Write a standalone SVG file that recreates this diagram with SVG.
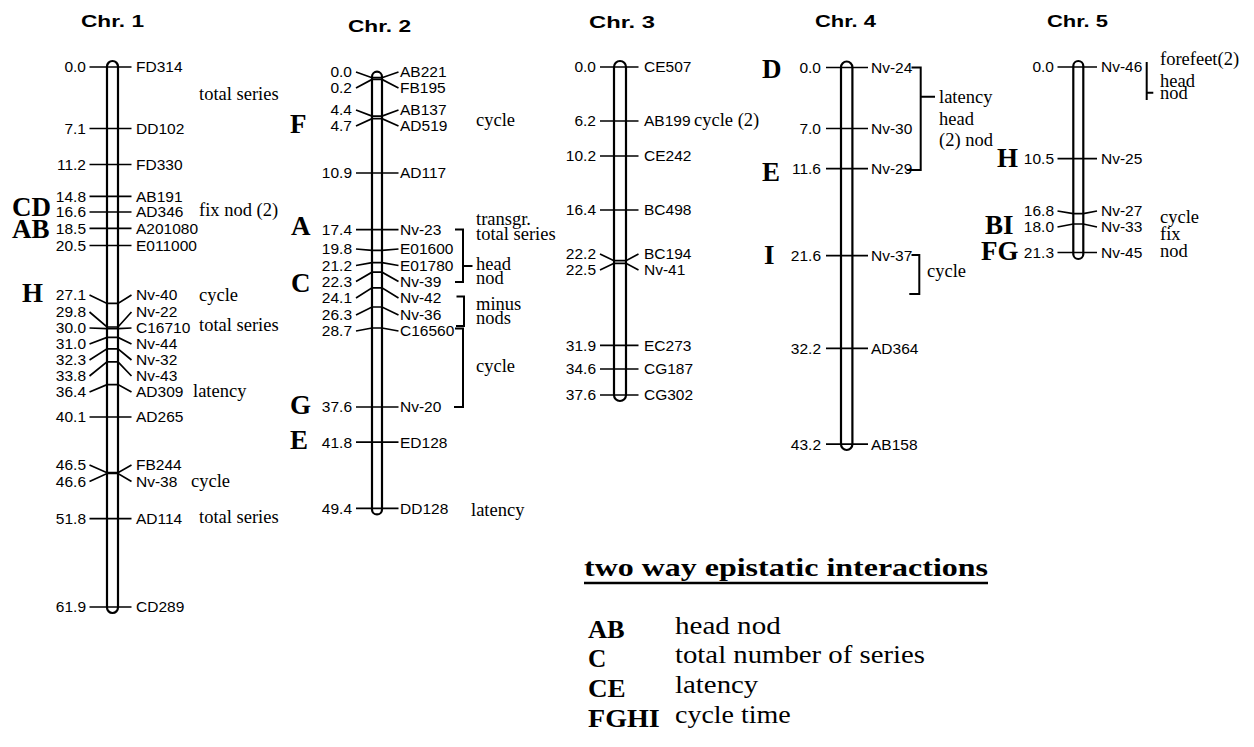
<svg xmlns="http://www.w3.org/2000/svg" width="1254" height="747" viewBox="0 0 1254 747">
<style>
text{fill:#000}
.n{font-family:'Liberation Sans',Arial,sans-serif;font-size:15.5px;text-anchor:end}
.m{font-family:'Liberation Sans',Arial,sans-serif;font-size:15.5px}
.a{font-family:'Liberation Serif','Times New Roman',serif;font-size:18.5px}
.L{font-family:'Liberation Serif','Times New Roman',serif;font-size:27px;font-weight:bold}
.t{font-family:'Liberation Sans',Arial,sans-serif;font-size:17px;font-weight:bold}
.bar{fill:#fff;stroke:#000;stroke-width:2.2}
.tk{fill:none;stroke:#000;stroke-width:1.7}
.br{fill:none;stroke:#000;stroke-width:2}
.lt{font-family:'Liberation Serif','Times New Roman',serif;font-size:26px;font-weight:bold}
.ld{font-family:'Liberation Serif','Times New Roman',serif;font-size:25px}
</style>
<rect width="1254" height="747" fill="#fff"/>

<g id="chr1">
<text class="t" x="81" y="27" textLength="63" lengthAdjust="spacingAndGlyphs">Chr. 1</text>
<rect class="bar" x="107" y="61" width="11" height="552" rx="5.5" ry="5.5"/>
<g class="tk">
<line x1="89.5" y1="67" x2="131.5" y2="67"/>
<line x1="89.5" y1="128.5" x2="131.5" y2="128.5"/>
<line x1="89.5" y1="164.5" x2="131.5" y2="164.5"/>
<line x1="89.5" y1="196.3" x2="131.5" y2="196.3"/>
<line x1="89.5" y1="212" x2="131.5" y2="212"/>
<line x1="89.5" y1="228.4" x2="131.5" y2="228.4"/>
<line x1="89.5" y1="245.5" x2="131.5" y2="245.5"/>
<polyline points="89.5,295 107,303.4 118,303.4 131.5,295"/>
<polyline points="89.5,312 107,327 118,327 131.5,312"/>
<polyline points="89.5,328 107,328.7 118,328.7 131.5,328"/>
<polyline points="89.5,344 107,337.4 118,337.4 131.5,344"/>
<polyline points="89.5,360 107,348.8 118,348.8 131.5,360"/>
<polyline points="89.5,376 107,361.9 118,361.9 131.5,376"/>
<polyline points="89.5,392 107,384.6 118,384.6 131.5,392"/>
<line x1="89.5" y1="417" x2="131.5" y2="417"/>
<polyline points="89.5,465 107,472.7 118,472.7 131.5,465"/>
<polyline points="89.5,481.5 107,473.5 118,473.5 131.5,481.5"/>
<line x1="89.5" y1="518.7" x2="131.5" y2="518.7"/>
<line x1="89.5" y1="607" x2="131.5" y2="607"/>
</g>
<text class="n" x="86" y="72.3">0.0</text>
<text class="n" x="86" y="133.8">7.1</text>
<text class="n" x="86" y="169.8">11.2</text>
<text class="n" x="86" y="201.6">14.8</text>
<text class="n" x="86" y="217.3">16.6</text>
<text class="n" x="86" y="233.7">18.5</text>
<text class="n" x="86" y="250.8">20.5</text>
<text class="n" x="86" y="300.3">27.1</text>
<text class="n" x="86" y="317.3">29.8</text>
<text class="n" x="86" y="333.3">30.0</text>
<text class="n" x="86" y="349.3">31.0</text>
<text class="n" x="86" y="365.3">32.3</text>
<text class="n" x="86" y="381.3">33.8</text>
<text class="n" x="86" y="397.3">36.4</text>
<text class="n" x="86" y="422.3">40.1</text>
<text class="n" x="86" y="470.3">46.5</text>
<text class="n" x="86" y="486.8">46.6</text>
<text class="n" x="86" y="524">51.8</text>
<text class="n" x="86" y="612.3">61.9</text>
<text class="m" x="136" y="72.3">FD314</text>
<text class="m" x="136" y="133.8">DD102</text>
<text class="m" x="136" y="169.8">FD330</text>
<text class="m" x="136" y="201.6">AB191</text>
<text class="m" x="136" y="217.3">AD346</text>
<text class="m" x="136" y="233.7">A201080</text>
<text class="m" x="136" y="250.8">E011000</text>
<text class="m" x="136" y="300.3">Nv-40</text>
<text class="m" x="136" y="317.3">Nv-22</text>
<text class="m" x="136" y="333.3">C16710</text>
<text class="m" x="136" y="349.3">Nv-44</text>
<text class="m" x="136" y="365.3">Nv-32</text>
<text class="m" x="136" y="381.3">Nv-43</text>
<text class="m" x="136" y="397.3">AD309</text>
<text class="m" x="136" y="422.3">AD265</text>
<text class="m" x="136" y="470.3">FB244</text>
<text class="m" x="136" y="486.8">Nv-38</text>
<text class="m" x="136" y="524">AD114</text>
<text class="m" x="136" y="612.3">CD289</text>
<text class="a" x="199" y="100">total series</text>
<text class="a" x="199" y="216">fix nod (2)</text>
<text class="a" x="199" y="301">cycle</text>
<text class="a" x="199" y="331">total series</text>
<text class="a" x="193" y="397">latency</text>
<text class="a" x="191" y="487">cycle</text>
<text class="a" x="199" y="523">total series</text>
<text class="L" x="12" y="216">CD</text>
<text class="L" x="12" y="238">AB</text>
<text class="L" x="22" y="302">H</text>
</g>

<g id="chr2">
<text class="t" x="348" y="31.5" textLength="63" lengthAdjust="spacingAndGlyphs">Chr. 2</text>
<rect class="bar" x="372" y="71.7" width="10" height="442.7" rx="5" ry="5"/>
<g class="tk">
<polyline points="356,72 372,77.7 382,77.7 398.5,72"/>
<polyline points="356,88 372,79.4 382,79.4 398.5,88"/>
<polyline points="356,110 372,116.1 382,116.1 398.5,110"/>
<polyline points="356,126 372,118.7 382,118.7 398.5,126"/>
<line x1="356" y1="173" x2="398.5" y2="173"/>
<line x1="356" y1="229.7" x2="398.5" y2="229.7"/>
<polyline points="356,249 372,250.4 382,250.4 398.5,249"/>
<polyline points="356,265.5 372,262.6 382,262.6 398.5,265.5"/>
<polyline points="356,281.5 372,272.2 382,272.2 398.5,281.5"/>
<polyline points="356,298 372,287.9 382,287.9 398.5,298"/>
<polyline points="356,315 372,307 382,307 398.5,315"/>
<polyline points="356,331 372,328 382,328 398.5,331"/>
<line x1="356" y1="407" x2="398.5" y2="407"/>
<line x1="356" y1="442.2" x2="398.5" y2="442.2"/>
<line x1="356" y1="508.4" x2="398.5" y2="508.4"/>
</g>
<text class="n" x="352" y="77.3">0.0</text>
<text class="n" x="352" y="93.3">0.2</text>
<text class="n" x="352" y="115.3">4.4</text>
<text class="n" x="352" y="131.3">4.7</text>
<text class="n" x="352" y="178.3">10.9</text>
<text class="n" x="352" y="235">17.4</text>
<text class="n" x="352" y="254.3">19.8</text>
<text class="n" x="352" y="270.8">21.2</text>
<text class="n" x="352" y="286.8">22.3</text>
<text class="n" x="352" y="303.3">24.1</text>
<text class="n" x="352" y="320.3">26.3</text>
<text class="n" x="352" y="336.3">28.7</text>
<text class="n" x="352" y="412.3">37.6</text>
<text class="n" x="352" y="447.5">41.8</text>
<text class="n" x="352" y="513.7">49.4</text>
<text class="m" x="400" y="77.3">AB221</text>
<text class="m" x="400" y="93.3">FB195</text>
<text class="m" x="400" y="115.3">AB137</text>
<text class="m" x="400" y="131.3">AD519</text>
<text class="m" x="400" y="178.3">AD117</text>
<text class="m" x="400" y="235">Nv-23</text>
<text class="m" x="400" y="254.3">E01600</text>
<text class="m" x="400" y="270.8">E01780</text>
<text class="m" x="400" y="286.8">Nv-39</text>
<text class="m" x="400" y="303.3">Nv-42</text>
<text class="m" x="400" y="320.3">Nv-36</text>
<text class="m" x="400" y="336.3">C16560</text>
<text class="m" x="400" y="412.3">Nv-20</text>
<text class="m" x="400" y="447.5">ED128</text>
<text class="m" x="400" y="513.7">DD128</text>
<text class="a" x="476" y="126">cycle</text>
<text class="a" x="476" y="225">transgr.</text>
<text class="a" x="476" y="239.5">total series</text>
<text class="a" x="476" y="270">head</text>
<text class="a" x="476" y="284">nod</text>
<text class="a" x="476" y="310">minus</text>
<text class="a" x="476" y="324">nods</text>
<text class="a" x="476" y="372">cycle</text>
<text class="a" x="471" y="516">latency</text>
<text class="L" x="290" y="133">F</text>
<text class="L" x="291" y="235">A</text>
<text class="L" x="291" y="292">C</text>
<text class="L" x="290" y="414">G</text>
<text class="L" x="290" y="449">E</text>
</g>

<g id="chr3">
<text class="t" x="589" y="28" textLength="66" lengthAdjust="spacingAndGlyphs">Chr. 3</text>
<rect class="bar" x="614" y="61" width="12" height="340" rx="6" ry="6"/>
<g class="tk">
<line x1="600" y1="67" x2="638.5" y2="67"/>
<line x1="600" y1="121" x2="638.5" y2="121"/>
<line x1="600" y1="156" x2="638.5" y2="156"/>
<line x1="600" y1="210" x2="638.5" y2="210"/>
<polyline points="600,254 614,260.7 626,260.7 638.5,254"/>
<polyline points="600,270 614,263.3 626,263.3 638.5,270"/>
<line x1="600" y1="345.3" x2="638.5" y2="345.3"/>
<line x1="600" y1="369" x2="638.5" y2="369"/>
<line x1="600" y1="395" x2="638.5" y2="395"/>
</g>
<text class="n" x="596" y="72.3">0.0</text>
<text class="n" x="596" y="126.3">6.2</text>
<text class="n" x="596" y="161.3">10.2</text>
<text class="n" x="596" y="215.3">16.4</text>
<text class="n" x="596" y="259.3">22.2</text>
<text class="n" x="596" y="275.3">22.5</text>
<text class="n" x="596" y="350.6">31.9</text>
<text class="n" x="596" y="374.3">34.6</text>
<text class="n" x="596" y="400.3">37.6</text>
<text class="m" x="644" y="72.3">CE507</text>
<text class="m" x="644" y="126.3">AB199</text>
<text class="m" x="644" y="161.3">CE242</text>
<text class="m" x="644" y="215.3">BC498</text>
<text class="m" x="644" y="259.3">BC194</text>
<text class="m" x="644" y="275.3">Nv-41</text>
<text class="m" x="644" y="350.6">EC273</text>
<text class="m" x="644" y="374.3">CG187</text>
<text class="m" x="644" y="400.3">CG302</text>
<text class="a" x="694" y="126">cycle (2)</text>
</g>

<g id="chr4">
<text class="t" x="815" y="26.7" textLength="61" lengthAdjust="spacingAndGlyphs">Chr. 4</text>
<rect class="bar" x="841" y="61.5" width="11.4" height="388.5" rx="5.7" ry="5.7"/>
<g class="tk">
<line x1="826" y1="67.5" x2="868" y2="67.5"/>
<line x1="826" y1="128.5" x2="868" y2="128.5"/>
<line x1="826" y1="168.7" x2="868" y2="168.7"/>
<line x1="826" y1="255.7" x2="868" y2="255.7"/>
<line x1="826" y1="348.4" x2="868" y2="348.4"/>
<line x1="826" y1="444.2" x2="868" y2="444.2"/>
</g>
<text class="n" x="821" y="72.8">0.0</text>
<text class="n" x="821" y="133.8">7.0</text>
<text class="n" x="821" y="174">11.6</text>
<text class="n" x="821" y="261">21.6</text>
<text class="n" x="821" y="353.7">32.2</text>
<text class="n" x="821" y="449.5">43.2</text>
<text class="m" x="871" y="72.8">Nv-24</text>
<text class="m" x="871" y="133.8">Nv-30</text>
<text class="m" x="871" y="174">Nv-29</text>
<text class="m" x="871" y="261">Nv-37</text>
<text class="m" x="871" y="353.7">AD364</text>
<text class="m" x="871" y="449.5">AB158</text>
<text class="a" x="939" y="103">latency</text>
<text class="a" x="939" y="125">head</text>
<text class="a" x="939" y="146">(2) nod</text>
<text class="a" x="927" y="277">cycle</text>
<text class="L" x="762" y="78">D</text>
<text class="L" x="762" y="181">E</text>
<text class="L" x="764" y="264">I</text>
</g>

<g id="chr5">
<text class="t" x="1047" y="26.7" textLength="61" lengthAdjust="spacingAndGlyphs">Chr. 5</text>
<rect class="bar" x="1073.3" y="61" width="10" height="198" rx="5" ry="5"/>
<g class="tk">
<line x1="1057.5" y1="67" x2="1097" y2="67"/>
<line x1="1057.5" y1="158.6" x2="1097" y2="158.6"/>
<polyline points="1057.5,211 1073.3,213.6 1083.3,213.6 1097,211"/>
<polyline points="1057.5,227 1073.3,224 1083.3,224 1097,227"/>
<line x1="1057.5" y1="252.5" x2="1097" y2="252.5"/>
</g>
<text class="n" x="1054" y="72.3">0.0</text>
<text class="n" x="1054" y="163.9">10.5</text>
<text class="n" x="1054" y="216.3">16.8</text>
<text class="n" x="1054" y="232.3">18.0</text>
<text class="n" x="1054" y="257.8">21.3</text>
<text class="m" x="1101" y="72.3">Nv-46</text>
<text class="m" x="1101" y="163.9">Nv-25</text>
<text class="m" x="1101" y="216.3">Nv-27</text>
<text class="m" x="1101" y="232.3">Nv-33</text>
<text class="m" x="1101" y="257.8">Nv-45</text>
<text class="a" x="1160" y="65">forefeet(2)</text>
<text class="a" x="1160" y="87">head</text>
<text class="a" x="1160" y="98.5">nod</text>
<text class="a" x="1160" y="223">cycle</text>
<text class="a" x="1160" y="240">fix</text>
<text class="a" x="1160" y="257">nod</text>
<text class="L" x="997" y="167">H</text>
<text class="L" x="985" y="234">BI</text>
<text class="L" x="981" y="260">FG</text>
</g>

<g id="connectors" class="br">
<path d="M455,229.5 H463 V282 H455 M463,266 H472.5"/>
<path d="M456.5,296.5 H464 V326 H456"/>
<path d="M455,328.5 H463 V407 H454"/>
<path d="M911.5,67.5 H920.7 V170 H906.7 M920.7,96.7 H935"/>
<path d="M911.5,255 H919.3 V294 H909.3"/>
<path d="M1146.7,62 V100 M1146.7,92.7 H1153.3"/>
</g>

<g id="legend">
<text class="lt" x="584" y="576" textLength="404" lengthAdjust="spacingAndGlyphs">two way epistatic interactions</text>
<line x1="584" y1="583" x2="988" y2="583" stroke="#000" stroke-width="2.5"/>
<text class="lt" x="588" y="638" textLength="36.7" lengthAdjust="spacingAndGlyphs">AB</text>
<text class="lt" x="588" y="667" textLength="18.3" lengthAdjust="spacingAndGlyphs">C</text>
<text class="lt" x="588" y="697" textLength="37.7" lengthAdjust="spacingAndGlyphs">CE</text>
<text class="lt" x="588" y="727" textLength="71.7" lengthAdjust="spacingAndGlyphs">FGHI</text>
<text class="ld" x="675" y="634" textLength="105.7" lengthAdjust="spacingAndGlyphs">head nod</text>
<text class="ld" x="675" y="663" textLength="250" lengthAdjust="spacingAndGlyphs">total number of series</text>
<text class="ld" x="675" y="693" textLength="83.3" lengthAdjust="spacingAndGlyphs">latency</text>
<text class="ld" x="675" y="723" textLength="115.7" lengthAdjust="spacingAndGlyphs">cycle time</text>
</g>
</svg>
